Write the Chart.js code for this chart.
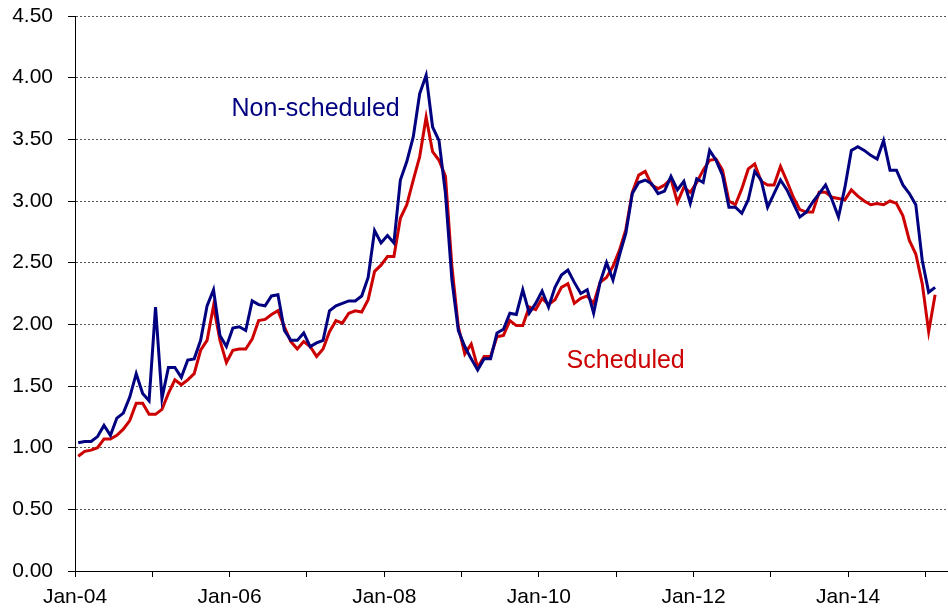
<!DOCTYPE html>
<html>
<head>
<meta charset="utf-8">
<script src="https://cdn.jsdelivr.net/npm/chart.js@4.4.1/dist/chart.umd.min.js"></script>
<style>
  body { margin: 0; background: #fff; }
  #chart { display: block; }
</style>
</head>
<body>
<canvas id="chart" width="948" height="612"></canvas>
<script>
// monthly series, Jan-04 .. Feb-15
const monthNames = ['Jan','Feb','Mar','Apr','May','Jun','Jul','Aug','Sep','Oct','Nov','Dec'];

const nonScheduled = [
  1.04, 1.05, 1.05, 1.09, 1.18, 1.10, 1.24, 1.28, 1.41, 1.60, 1.44, 1.38,
  2.14, 1.40, 1.65, 1.65, 1.57, 1.71, 1.72, 1.87, 2.15, 2.28, 1.91, 1.82,
  1.97, 1.98, 1.95, 2.19, 2.16, 2.15, 2.23, 2.24, 1.95, 1.87, 1.87, 1.93,
  1.82, 1.85, 1.87, 2.11, 2.15, 2.17, 2.19, 2.19, 2.23, 2.38, 2.76, 2.66,
  2.72, 2.66, 3.17, 3.32, 3.52, 3.87, 4.02, 3.60, 3.49, 3.06, 2.36, 1.95,
  1.82, 1.72, 1.63, 1.72, 1.72, 1.93, 1.96, 2.09, 2.08, 2.28, 2.09, 2.17,
  2.27, 2.14, 2.30, 2.40, 2.44, 2.34, 2.25, 2.28, 2.09, 2.34, 2.50, 2.36,
  2.56, 2.74, 3.06, 3.15, 3.17, 3.14, 3.06, 3.08, 3.20, 3.09, 3.16, 2.98,
  3.18, 3.15, 3.41, 3.33, 3.21, 2.95, 2.95, 2.90, 3.01, 3.24, 3.17, 2.95,
  3.06, 3.17, 3.09, 2.98, 2.87, 2.91, 2.99, 3.06, 3.13, 3.01, 2.87, 3.11,
  3.41, 3.44, 3.41, 3.37, 3.34, 3.49, 3.25, 3.25, 3.13, 3.06, 2.97, 2.52,
  2.26, 2.30
];

const scheduled = [
  0.93, 0.97, 0.98, 1.00, 1.07, 1.07, 1.10, 1.15, 1.22, 1.36, 1.36, 1.27,
  1.27, 1.31, 1.44, 1.55, 1.51, 1.55, 1.60, 1.79, 1.87, 2.15, 1.87, 1.69,
  1.79, 1.80, 1.80, 1.88, 2.03, 2.04, 2.08, 2.11, 1.98, 1.86, 1.80, 1.86,
  1.82, 1.74, 1.80, 1.94, 2.03, 2.01, 2.09, 2.11, 2.10, 2.20, 2.43, 2.48,
  2.55, 2.55, 2.86, 2.97, 3.17, 3.36, 3.68, 3.40, 3.33, 3.20, 2.47, 1.98,
  1.76, 1.84, 1.65, 1.74, 1.74, 1.90, 1.91, 2.03, 1.99, 1.99, 2.14, 2.12,
  2.21, 2.16, 2.20, 2.30, 2.33, 2.17, 2.21, 2.23, 2.17, 2.34, 2.38, 2.47,
  2.60, 2.77, 3.07, 3.21, 3.24, 3.13, 3.10, 3.13, 3.18, 2.99, 3.11, 3.07,
  3.15, 3.25, 3.33, 3.34, 3.25, 3.00, 2.97, 3.10, 3.26, 3.30, 3.16, 3.13,
  3.13, 3.28, 3.16, 3.03, 2.93, 2.91, 2.91, 3.07, 3.07, 3.03, 3.02, 3.01,
  3.09, 3.04, 3.00, 2.97, 2.98, 2.97, 3.00, 2.98, 2.88, 2.68, 2.57, 2.33,
  1.94, 2.24
];

// one tick a year, label every second year
const tickLabels = ['Jan-04', '', 'Jan-06', '', 'Jan-08', '', 'Jan-10', '', 'Jan-12', '', 'Jan-14', ''];

const months = nonScheduled.map((_, i) =>
  monthNames[i % 12] + '-' + String(4 + Math.floor(i / 12)).padStart(2, '0'));

// points sit mid-month on the month axis
const toPoints = arr => arr.map((v, i) => ({ x: i + 0.5, y: v, month: months[i] }));

const notes = [
  { text: 'Non-scheduled', month: 24.3, value: 3.69, color: '#000080' },
  { text: 'Scheduled', month: 76.3, value: 1.65, color: '#cc0000' }
];

const notePlugin = {
  id: 'notes',
  afterDatasetsDraw(chart) {
    const { ctx, scales: { x, y } } = chart;
    ctx.save();
    ctx.font = '25px "Liberation Sans", Arial, sans-serif';
    ctx.textBaseline = 'alphabetic';
    notes.forEach(n => {
      ctx.fillStyle = n.color;
      ctx.fillText(n.text, x.getPixelForValue(n.month), y.getPixelForValue(n.value));
    });
    ctx.restore();
  }
};

const tickFont = { family: '"Liberation Sans", Arial, sans-serif', size: 21 };

new Chart(document.getElementById('chart'), {
  type: 'line',
  data: {
    datasets: [{
      label: 'Non-scheduled',
      data: toPoints(nonScheduled),
      borderColor: '#000080',
      borderWidth: 3,
    }, {
      label: 'Scheduled',
      data: toPoints(scheduled),
      borderColor: '#cc0000',
      borderWidth: 3,
    }]
  },
  options: {
    responsive: false,
    animation: false,
    parsing: false,
    elements: {
      point: { radius: 0 },
      line: { tension: 0, fill: false }
    },
    layout: { padding: { top: 16, right: 0, bottom: 0, left: 0 } },
    plugins: {
      legend: { display: false },
      tooltip: { enabled: false }
    },
    scales: {
      x: {
        type: 'linear',
        min: 0,
        max: 135.5,
        afterBuildTicks: scale => {
          scale.ticks = tickLabels.map((_, i) => ({ value: i * 12 }));
        },
        afterFit: scale => {
          scale.height = 41;
          scale.paddingLeft = 0;
          scale.paddingRight = 0;
        },
        ticks: {
          callback: (value, index) => tickLabels[index],
          autoSkip: false,
          maxRotation: 0,
          padding: 8,
          color: '#000',
          font: tickFont
        },
        grid: {
          drawOnChartArea: false,
          drawTicks: true,
          tickLength: 6,
          tickColor: '#000'
        },
        border: { color: '#000', width: 1 }
      },
      y: {
        min: 0,
        max: 4.5,
        afterFit: scale => {
          scale.width = 75;
          scale.paddingTop = 0;
          scale.paddingBottom = 0;
        },
        ticks: {
          stepSize: 0.5,
          padding: 15,
          color: '#000',
          font: tickFont,
          callback: v => v.toFixed(2)
        },
        grid: {
          color: '#555',
          tickColor: '#000',
          tickLength: 7,
          lineWidth: 1
        },
        border: { color: '#000', width: 1, dash: [2, 2] }
      }
    }
  },
  plugins: [notePlugin]
});
</script>
</body>
</html>
